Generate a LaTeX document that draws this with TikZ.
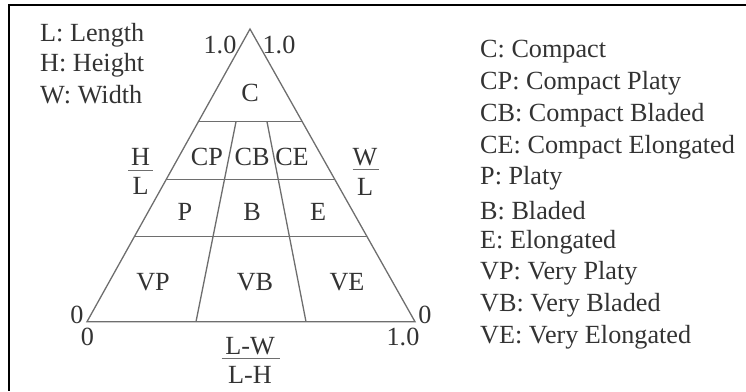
\documentclass[tikz,border=0pt]{standalone}
\usepackage{fontspec}
\setmainfont{Liberation Serif}
\usetikzlibrary{calc}
\definecolor{ink}{HTML}{333333}
\definecolor{edge}{HTML}{6E6E6E}
\begin{document}
\begin{tikzpicture}[x=1pt,y=-1pt,
  lbl/.style={inner sep=0pt,text=ink,font=\fontsize{26.2}{31}\selectfont},
  legend/.style={lbl,anchor=west},
  edgeline/.style={draw=edge,line width=1.3pt},
  barline/.style={draw=edge,line width=0.9pt},
  frameline/.style={draw=black,line width=2.2pt}]
\useasboundingbox (0,0) rectangle (746,391);

% frame (top and left rules)
\coordinate (ftl) at (9,5);
\coordinate (ftr) at (746,5);
\coordinate (fbl) at (9,391);
\draw[frameline] (ftr) -- (ftl) -- (fbl);

% triangle corners
\coordinate (apex) at (250,29);
\coordinate (bl) at (87,321.7);
\coordinate (br) at (415,321.7);
\draw[edgeline,line join=miter] (bl) -- (apex) -- (br) -- cycle;

% horizontal class boundaries
\coordinate (h1l) at ($(apex)!0.3167!(bl)$);
\coordinate (h1r) at ($(apex)!0.3167!(br)$);
\coordinate (h2l) at ($(apex)!0.5142!(bl)$);
\coordinate (h2r) at ($(apex)!0.5142!(br)$);
\coordinate (h3l) at ($(apex)!0.7089!(bl)$);
\coordinate (h3r) at ($(apex)!0.7089!(br)$);
\draw[edgeline] (h1l) -- (h1r);
\draw[edgeline] (h2l) -- (h2r);
\draw[edgeline] (h3l) -- (h3r);

% slanted class boundaries
\coordinate (d1t) at (236,121.7);
\coordinate (d1b) at (196,321.7);
\coordinate (d2t) at (267,121.7);
\coordinate (d2b) at (306,321.7);
\draw[edgeline] (d1t) -- (d1b);
\draw[edgeline] (d2t) -- (d2b);

% class labels
\node[lbl] (c)  at (250,92.7) {C};
\node[lbl] (cp) at (207,157) {CP};
\node[lbl] (cb) at (252,157) {CB};
\node[lbl] (ce) at (292,157) {CE};
\node[lbl] (p)  at (185,211.7) {P};
\node[lbl] (b)  at (252,211.7) {B};
\node[lbl] (e)  at (318,211.7) {E};
\node[lbl] (vp) at (153,281.7) {VP};
\node[lbl] (vb) at (255,281.7) {VB};
\node[lbl] (ve) at (347,281.7) {VE};

% axis values
\node[lbl] (topl) at (220,45) {1.0};
\node[lbl] (topr) at (279,45) {1.0};
\node[lbl] (zl)  at (77,315) {0};
\node[lbl] (zbl) at (87.5,336.7) {0};
\node[lbl] (zr)  at (425,315) {0};
\node[lbl] (obr) at (403,336.7) {1.0};

% axis ratios
\node[lbl] (hnum) at (140.5,157) {H};
\node[lbl] (hden) at (140.5,186) {L};
\coordinate (hbl) at (128,170);
\coordinate (hbr) at (153,170);
\draw[barline] (hbl) -- (hbr);

\node[lbl] (wnum) at (365,157) {W};
\node[lbl] (wden) at (365,186.5) {L};
\coordinate (wbl) at (352.5,169.5);
\coordinate (wbr) at (378.5,169.5);
\draw[barline] (wbl) -- (wbr);

\node[lbl] (lnum) at (250,346) {L-W};
\node[lbl] (lden) at (250,375) {L-H};
\coordinate (lbl1) at (221.5,358.3);
\coordinate (lbr1) at (280,358.3);
\draw[barline] (lbl1) -- (lbr1);

% variable key
\node[legend] (k1) at (40,35) {L: Length};
\node[legend] (k2) at (40,65) {H: Height};
\node[legend] (k3) at (40,95) {W: Width};

% class key
\node[legend] (g1)  at (480,51.7)  {C: Compact};
\node[legend] (g2)  at (480,83.4)  {CP: Compact Platy};
\node[legend] (g3)  at (480,115.1) {CB: Compact Bladed};
\node[legend] (g4)  at (480,146.8) {CE: Compact Elongated};
\node[legend] (g5)  at (480,178.5) {P: Platy};
\node[legend] (g6)  at (480,210.2) {B: Bladed};
\node[legend] (g7)  at (480,241.9) {E: Elongated};
\node[legend] (g8)  at (480,273.6) {VP: Very Platy};
\node[legend] (g9)  at (480,305.3) {VB: Very Bladed};
\node[legend] (g10) at (480,337)   {VE: Very Elongated};
\end{tikzpicture}
\end{document}
